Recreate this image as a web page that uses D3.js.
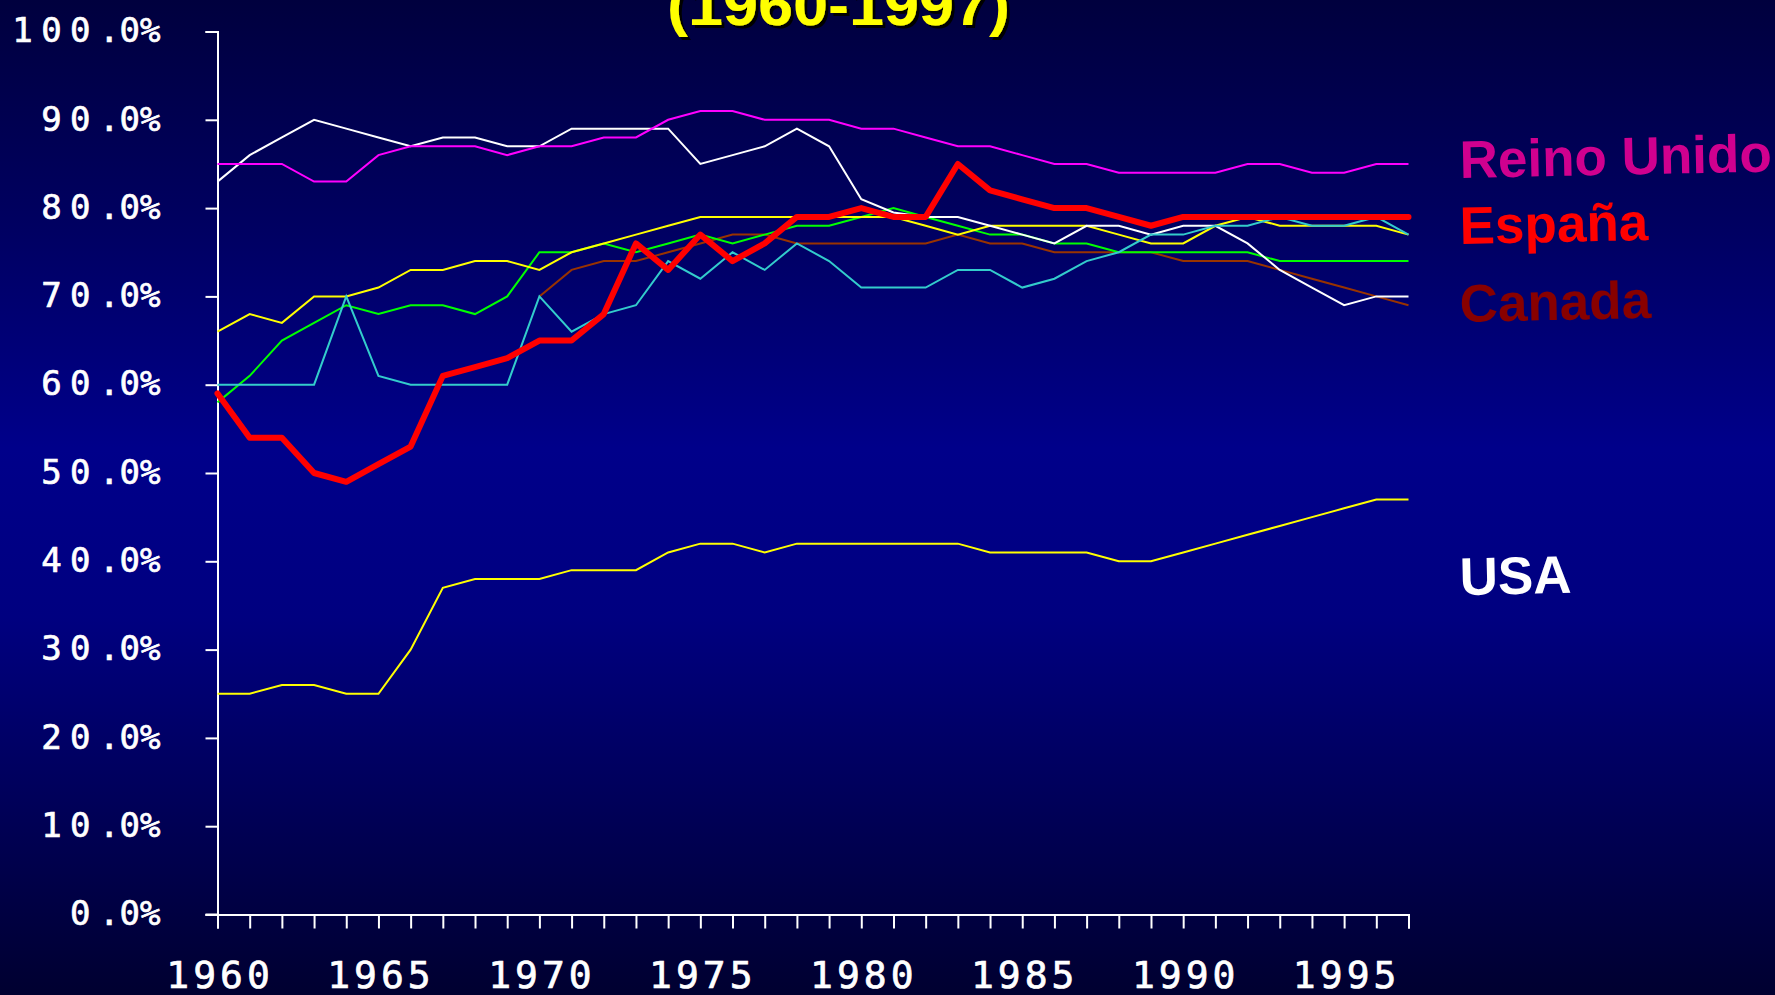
<!DOCTYPE html>
<html>
<head>
<meta charset="utf-8">
<script src="https://cdn.jsdelivr.net/npm/d3@7"></script>
<style>
html,body{margin:0;padding:0;background:#000040;overflow:hidden;}
svg{display:block;}
</style>
</head>
<body>
<svg id="chart" width="1775" height="995"></svg>
<script>
// ---------------- data ----------------
const years = d3.range(1960, 1998);
const yTicks = [0,10,20,30,40,50,60,70,80,90,100];
const xLabelYears = [1960,1965,1970,1975,1980,1985,1990,1995];
const title = "(1960-1997)";

const reinoUnido = [85,85,85,83,83,86,87,87,87,86,87,87,88,88,90,91,91,90,90,90,89,89,88,87,87,86,85,85,84,84,84,84,85,85,84,84,85,85];
const espana     = [59,54,54,50,49,51,53,61,62,63,65,65,68,76,73,77,74,76,79,79,80,79,79,85,82,81,80,80,79,78,79,79,79,79,79,79,79,79];
const canada     = [null,null,null,null,null,null,null,null,null,null,70,73,74,74,75,76,77,77,76,76,76,76,76,77,76,76,75,75,75,75,74,74,74,73,72,71,70,69];
const usa        = [25,25,26,26,25,25,30,37,38,38,38,39,39,39,41,42,42,41,42,42,42,42,42,42,41,41,41,41,40,40,41,42,43,44,45,46,47,47];
const paisBlanco = [83,86,88,90,89,88,87,88,88,87,87,89,89,89,89,85,86,87,89,87,81,79.5,79,79,78,77,76,78,78,77,78,78,76,73,71,69,70,70];
const paisAmarillo=[66,68,67,70,70,71,73,73,74,74,73,75,76,77,78,79,79,79,79,79,79,79,78,77,78,78,78,78,77,76,76,78,79,78,78,78,78,77];
const paisVerde  = [58,61,65,67,69,68,69,69,68,70,75,75,76,75,76,77,76,77,78,78,79,80,79,78,77,77,76,76,75,75,75,75,75,74,74,74,74,74];
const paisCian   = [60,60,60,60,70,61,60,60,60,60,70,66,68,69,74,72,75,73,76,74,71,71,71,73,73,71,72,74,75,77,77,78,78,79,78,78,79,77];

const seriesNames  = ["USA","Canada","Verde","Amarillo","Blanco","Reino Unido","Cian","España"];
const seriesValues = [usa, canada, paisVerde, paisAmarillo, paisBlanco, reinoUnido, paisCian, espana];
const seriesColors = ["#FFFF00","#993300","#00FF00","#FFFF00","#FFFFFF","#FF00FF","#33CCCC","#FF0000"];
const seriesWidths = [2,2,2,2,2,2,2,6];

const labelNames  = ["Reino Unido","España","Canada","USA"];
const labelColors = ["#D0008F","#FF0000","#880000","#FFFFFF"];

// ---------------- drawing ----------------
const W = 1775, H = 995;
const svg = d3.select("#chart");
const defs = svg.append("defs");
const grad = defs.append("linearGradient").attr("id","bg").attr("x1",0).attr("y1",0).attr("x2",0).attr("y2",1);
[["0%","#00003E"],["22%","#000060"],["45%","#00008A"],["62%","#000080"],["100%","#000030"]]
  .forEach(s => grad.append("stop").attr("offset",s[0]).attr("stop-color",s[1]));
const sh = defs.append("filter").attr("id","shadow").attr("x","-10%").attr("y","-10%").attr("width","130%").attr("height","140%");
sh.append("feDropShadow").attr("dx",3).attr("dy",3).attr("stdDeviation",0).attr("flood-color","#000000").attr("flood-opacity",1);

svg.append("rect").attr("width",W).attr("height",H).attr("fill","url(#bg)");

const x = d3.scaleLinear().domain([1960,1997]).range([217.5,1408.5]);
const y = d3.scaleLinear().domain([0,100]).range([914.5,31.5]);

// title (partially cut off at top, as in the reference)
svg.append("text")
  .attr("x", 667).attr("y", 25)
  .attr("textLength", 343).attr("lengthAdjust","spacingAndGlyphs")
  .attr("font-family","'Liberation Sans Narrow','Arial Narrow','Liberation Sans',Arial,sans-serif")
  .attr("font-weight","bold").attr("font-size",57)
  .attr("fill","#FFFF00").attr("filter","url(#shadow)")
  .text(title);

// y axis
const yAxis = svg.append("g").attr("transform",`translate(${x(1960)},0)`)
  .call(d3.axisLeft(y).tickValues(yTicks).tickSize(12).tickPadding(45)
        .tickFormat(d => d.toFixed(1) + "%"));
yAxis.select(".domain").attr("stroke","#FFFFFF").attr("stroke-width",2);
yAxis.selectAll(".tick line").attr("stroke","#FFFFFF").attr("stroke-width",2);
yAxis.selectAll(".tick text")
  .attr("fill","#FFFFFF").attr("stroke","#FFFFFF").attr("stroke-width",0.7)
  .attr("font-family","'DejaVu Sans Mono',monospace")
  .attr("font-size",34).attr("dy","0.30em")
  .each(function(d){
    const t = d3.select(this);
    const s = d.toFixed(1) + "%";
    const k = s.indexOf(".");
    t.text(null);
    t.append("tspan").attr("letter-spacing","8.5px").text(s.slice(0,k));
    t.append("tspan").attr("letter-spacing","0px").text(s.slice(k));
  });

// x axis
const xAxis = svg.append("g").attr("transform",`translate(0,${y(0)})`)
  .call(d3.axisBottom(x).tickValues(years).tickSize(14).tickPadding(33)
        .tickFormat(d => xLabelYears.includes(d) ? String(d) : ""));
xAxis.select(".domain").attr("stroke","#FFFFFF").attr("stroke-width",2);
xAxis.selectAll(".tick line").attr("stroke","#FFFFFF").attr("stroke-width",2);
xAxis.selectAll(".tick text")
  .attr("fill","#FFFFFF").attr("stroke","#FFFFFF").attr("stroke-width",0.7)
  .attr("font-family","'DejaVu Sans Mono',monospace")
  .attr("font-size",38).attr("letter-spacing","4px").attr("dx","2px");

// extend the x axis line to the left under the y-axis ticks
svg.append("line").attr("x1",x(1960)-12).attr("x2",x(1960)).attr("y1",y(0)).attr("y2",y(0))
  .attr("stroke","#FFFFFF").attr("stroke-width",2);

// lines
const line = d3.line()
  .defined(d => d.v !== null)
  .x(d => x(d.year)).y(d => y(d.v));

seriesValues.forEach((vals, i) => {
  svg.append("path")
    .datum(years.map((yr, j) => ({year: yr, v: vals[j]})))
    .attr("fill","none")
    .attr("stroke", seriesColors[i])
    .attr("stroke-width", seriesWidths[i])
    .attr("stroke-linejoin", i === seriesValues.length - 1 ? "round" : "miter")
    .attr("stroke-linecap", i === seriesValues.length - 1 ? "round" : "butt")
    .attr("d", line);
});

// country labels
const labelPos = [[1460,178],[1460,244],[1460,322],[1460,595]];
labelNames.forEach((name, i) => {
  svg.append("text")
    .attr("transform", `translate(${labelPos[i][0]},${labelPos[i][1]}) rotate(-1.2)`)
    .attr("font-family","'Liberation Sans',Arial,sans-serif")
    .attr("font-weight","bold").attr("font-size",53)
    .attr("fill", labelColors[i])
    .text(name);
});
</script>
</body>
</html>
